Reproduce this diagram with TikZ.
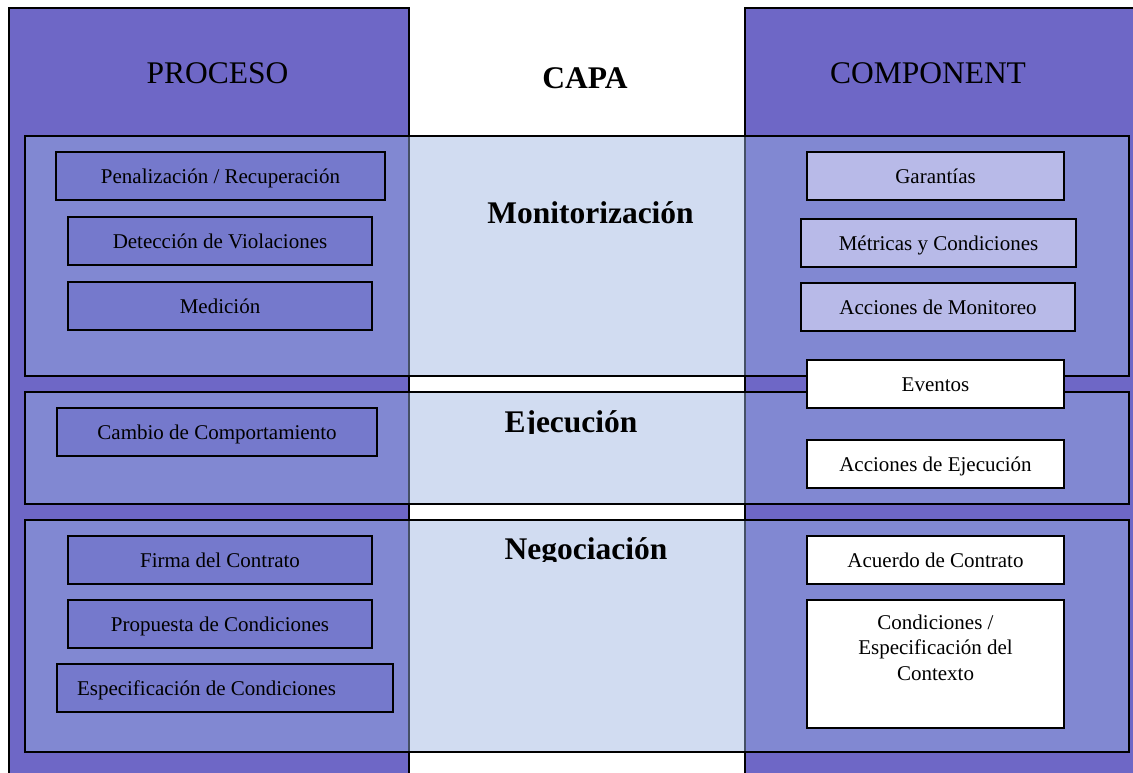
\documentclass[tikz,border=0pt]{standalone}
\usepackage{fontspec}
\setmainfont{Liberation Serif}
\definecolor{colpurple}{RGB}{110,103,198}
\definecolor{bandcol}{RGB}{153,178,226}
\definecolor{lboxcol}{RGB}{117,121,204}
\definecolor{mboxcol}{RGB}{184,186,232}
\newcommand{\hdrfont}{\fontsize{31.5}{36}\selectfont}
\newcommand{\boxfont}{\fontsize{21}{25.5}\selectfont}
\tikzset{
  column/.style={fill=colpurple, draw=black, line width=1.4pt},
  band/.style={fill=bandcol, fill opacity=0.45, draw=black, draw opacity=1, line width=1.4pt},
  basebox/.style={draw=black, line width=1.4pt, inner sep=0pt, minimum height=48pt,
    font=\boxfont, text height=14pt, text depth=0pt},
  lbox/.style={basebox, fill=lboxcol},
  mbox/.style={basebox, fill=mboxcol},
  wbox/.style={basebox, fill=white},
  hdr/.style={font=\hdrfont, anchor=base, inner sep=0pt},
  layer/.style={font=\hdrfont\bfseries, anchor=base, inner sep=0pt}
}
\begin{document}
\begin{tikzpicture}[x=1pt,y=-1pt]
\useasboundingbox (0,0) rectangle (1133,772);
\clip (0,0) rectangle (1133,772);
\fill[white] (0,0) rectangle (1133,772);
% columns
\draw[column] (9,8) rectangle (409,790);
\draw[column] (745,8) rectangle (1150,790);
% headers
\node[hdr] (proc) at (217.5,83) {PROCESO};
\node[hdr, font=\hdrfont\bfseries] (capa) at (585,88) {CAPA};
\node[hdr] (comp) at (928,83) {COMPONENT};
% bands
\draw[band] (25,136) rectangle (1129,376);
\draw[band] (25,392) rectangle (1129,504);
\draw[band] (25,520) rectangle (1129,752);
% layer titles
\node[layer] (mon) at (590.5,223) {Monitorización};
\begin{scope}
  \clip (409,392) rectangle (745,433.5);
  \node[layer] (eje) at (571,432) {Ejecución};
\end{scope}
\begin{scope}
  \clip (409,520) rectangle (745,561);
  \node[layer] (neg) at (586,559.5) {Negociación};
\end{scope}
% left process boxes
\node[lbox, minimum width=329pt] (pen) at (220.5,176) {Penalización / Recuperación};
\node[lbox, minimum width=304pt] (det) at (220,241) {Detección de Violaciones};
\node[lbox, minimum width=304pt] (med) at (220,306) {Medición};
\node[lbox, minimum width=320pt] (cam) at (217,432) {Cambio de Comportamiento};
\node[lbox, minimum width=304pt] (fir) at (220,560) {Firma del Contrato};
\node[lbox, minimum width=304pt] (pro) at (220,624) {Propuesta de Condiciones};
\node[lbox, text width=296pt, align=flush left, inner xsep=20pt] (esp) at (225,688) {Especificación de Condiciones};
% right component boxes
\node[mbox, minimum width=257pt] (gar) at (935.5,176) {Garantías};
\node[mbox, minimum width=275pt] (met) at (938.5,243) {Métricas y Condiciones};
\node[mbox, minimum width=274pt] (acm) at (938,307) {Acciones de Monitoreo};
\node[wbox, minimum width=257pt] (eve) at (935.5,384) {Eventos};
\node[wbox, minimum width=257pt] (ace) at (935.5,464) {Acciones de Ejecución};
\node[wbox, minimum width=257pt] (acu) at (935.5,560) {Acuerdo de Contrato};
\node[wbox, minimum width=257pt, minimum height=128pt] (con) at (935.5,664) {};
\node[font=\boxfont, align=center, anchor=north, inner sep=0pt] (contxt) at (935.5,614.5)
  {Condiciones /\\Especificación del\\Contexto};
\end{tikzpicture}
\end{document}
